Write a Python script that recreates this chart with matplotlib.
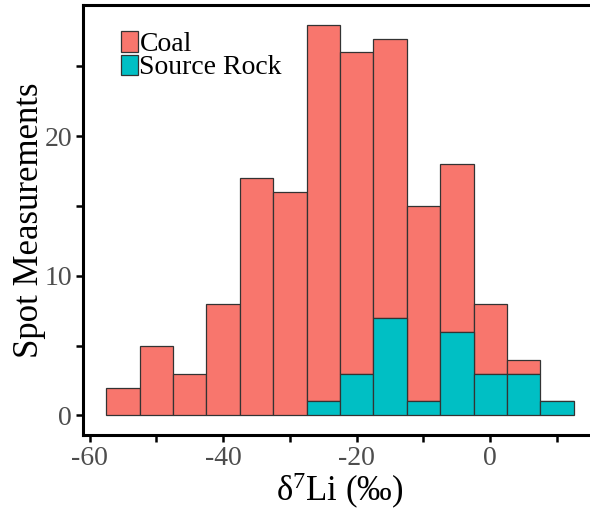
import numpy as np
import matplotlib
matplotlib.use("Agg")
import matplotlib.pyplot as plt

plt.rcParams['font.family'] = ['Liberation Serif', 'DejaVu Serif']
plt.rcParams['mathtext.fontset'] = 'custom'
plt.rcParams['mathtext.rm'] = 'Liberation Serif'
plt.rcParams['mathtext.it'] = 'Liberation Serif:italic'

# bin left edges (width 5) and counts per group
bin_left = [-57.5, -52.5, -47.5, -42.5, -37.5, -32.5, -27.5,
            -22.5, -17.5, -12.5, -7.5, -2.5, 2.5, 7.5]
bin_width = 5
total = [2, 5, 3, 8, 17, 16, 28, 26, 27, 15, 18, 8, 4, 1]
source_rock = [0, 0, 0, 0, 0, 0, 1, 3, 7, 1, 6, 3, 3, 1]
coal = [t - s for t, s in zip(total, source_rock)]

coal_color = '#F8766D'
rock_color = '#00BFC4'
edge = '#333333'

fig = plt.figure(figsize=(5.9, 5.11), dpi=100)
W, H = 590, 511
ax = fig.add_axes([83 / W, (H - 435) / H, (597 - 83) / W, (435 - 5) / H])

left = np.array(bin_left)
src = np.array(source_rock)
ax.bar(left, coal, width=bin_width, bottom=src, align='edge',
       color=coal_color, edgecolor=edge, linewidth=0.9, label='Coal')
mask = src > 0
ax.bar(left[mask], src[mask], width=bin_width, align='edge',
       color=rock_color, edgecolor=edge, linewidth=0.9, label='Source Rock')

ax.set_xlim(-61, 16)
ax.set_ylim(-1.4, 29.4)

ax.set_xticks([-60, -50, -40, -30, -20, -10, 0, 10])
ax.set_xticklabels(['-60', '', '-40', '', '-20', '', '0', ''])
ax.set_yticks([0, 5, 10, 15, 20, 25])
ax.set_yticklabels(['0', '', '10', '', '20', ''])
ax.tick_params(axis='both', direction='out', length=5, width=1.8,
               colors='black', labelcolor='#4D4D4D', labelsize=20, pad=3)

for side in ['left', 'bottom', 'top']:
    ax.spines[side].set_linewidth(2.2)
ax.spines['right'].set_visible(False)

ax.set_ylabel('Spot Measurements', fontsize=25, labelpad=-1)
ax.set_xlabel('δ$^{7}$Li (‰)', fontsize=25, labelpad=0)

handles, labels = ax.get_legend_handles_labels()
leg = ax.legend(handles, labels, loc='upper left',
                bbox_to_anchor=((118 - 83) / 514, 0.945),
                frameon=False, fontsize=20, handlelength=0.62,
                handleheight=0.75, handletextpad=0.05, labelspacing=-0.1,
                borderpad=0.1, borderaxespad=0)

fig.savefig('out.png', dpi=100)
